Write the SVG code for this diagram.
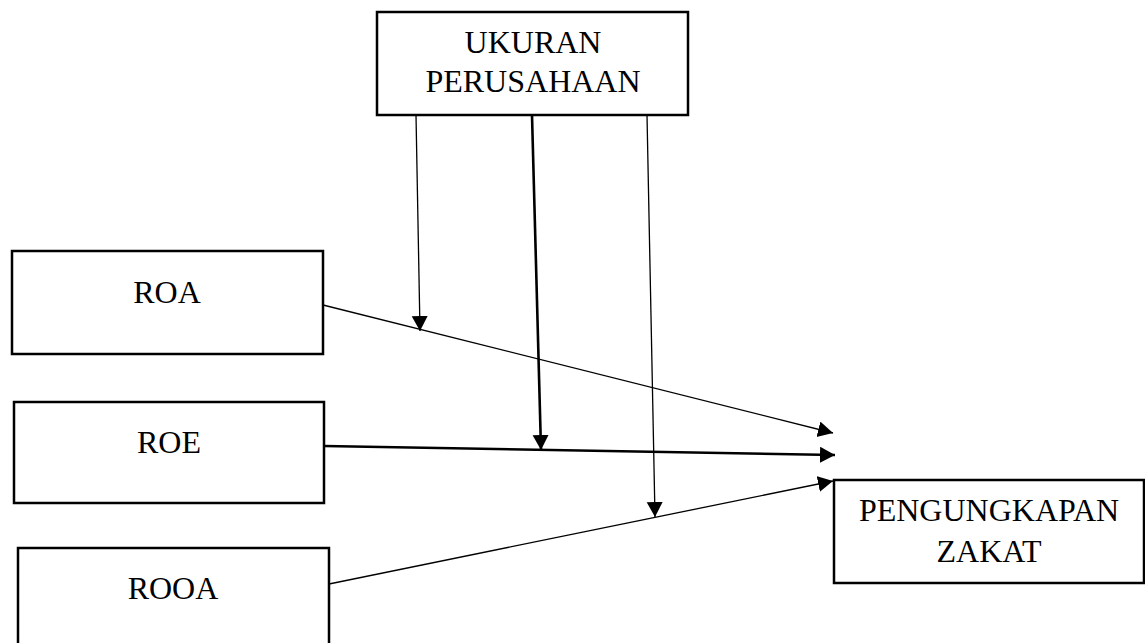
<svg xmlns="http://www.w3.org/2000/svg" width="1145" height="643" viewBox="0 0 1145 643">
<style>
.box{fill:#fff;stroke:#000;stroke-width:2.5}
.t{font-family:"Liberation Serif","Times New Roman",serif;font-size:32px;fill:#000;text-anchor:middle}
.thin{stroke:#000;stroke-width:1.3;fill:none;marker-end:url(#ah)}
.thick{stroke:#000;stroke-width:2.6;fill:none;marker-end:url(#ah)}
</style>
<defs>
<marker id="ah" markerUnits="userSpaceOnUse" markerWidth="17" markerHeight="17" refX="15" refY="8" orient="auto">
<path d="M0,0 L15,8 L0,16 z" fill="#000"/>
</marker>
</defs>
<rect width="1145" height="643" fill="#fff"/>
<g id="ukuran">
<rect class="box" x="377" y="12" width="311" height="103"/>
<text class="t" x="533" y="53">UKURAN</text>
<text class="t" x="533" y="92">PERUSAHAAN</text>
</g>
<g id="roa">
<rect class="box" x="12" y="251" width="311" height="103"/>
<text class="t" x="167" y="303">ROA</text>
</g>
<g id="roe">
<rect class="box" x="14" y="402" width="310" height="101"/>
<text class="t" x="169" y="453">ROE</text>
</g>
<g id="rooa">
<rect class="box" x="18" y="548" width="311" height="110"/>
<text class="t" x="173" y="599">ROOA</text>
</g>
<g id="pengungkapan">
<rect class="box" x="834" y="480" width="310" height="103"/>
<text class="t" x="989" y="521">PENGUNGKAPAN</text>
<text class="t" x="989" y="562">ZAKAT</text>
</g>
<g id="connectors">
<line class="thin" x1="323" y1="305" x2="833" y2="433"/>
<line class="thick" x1="324" y1="446" x2="835" y2="455"/>
<line class="thin" x1="329" y1="584" x2="833" y2="481"/>
<line class="thin" x1="416" y1="115" x2="420" y2="331"/>
<line class="thick" x1="532" y1="115" x2="541" y2="450"/>
<line class="thin" x1="647" y1="115" x2="655" y2="517"/>
</g>
</svg>
